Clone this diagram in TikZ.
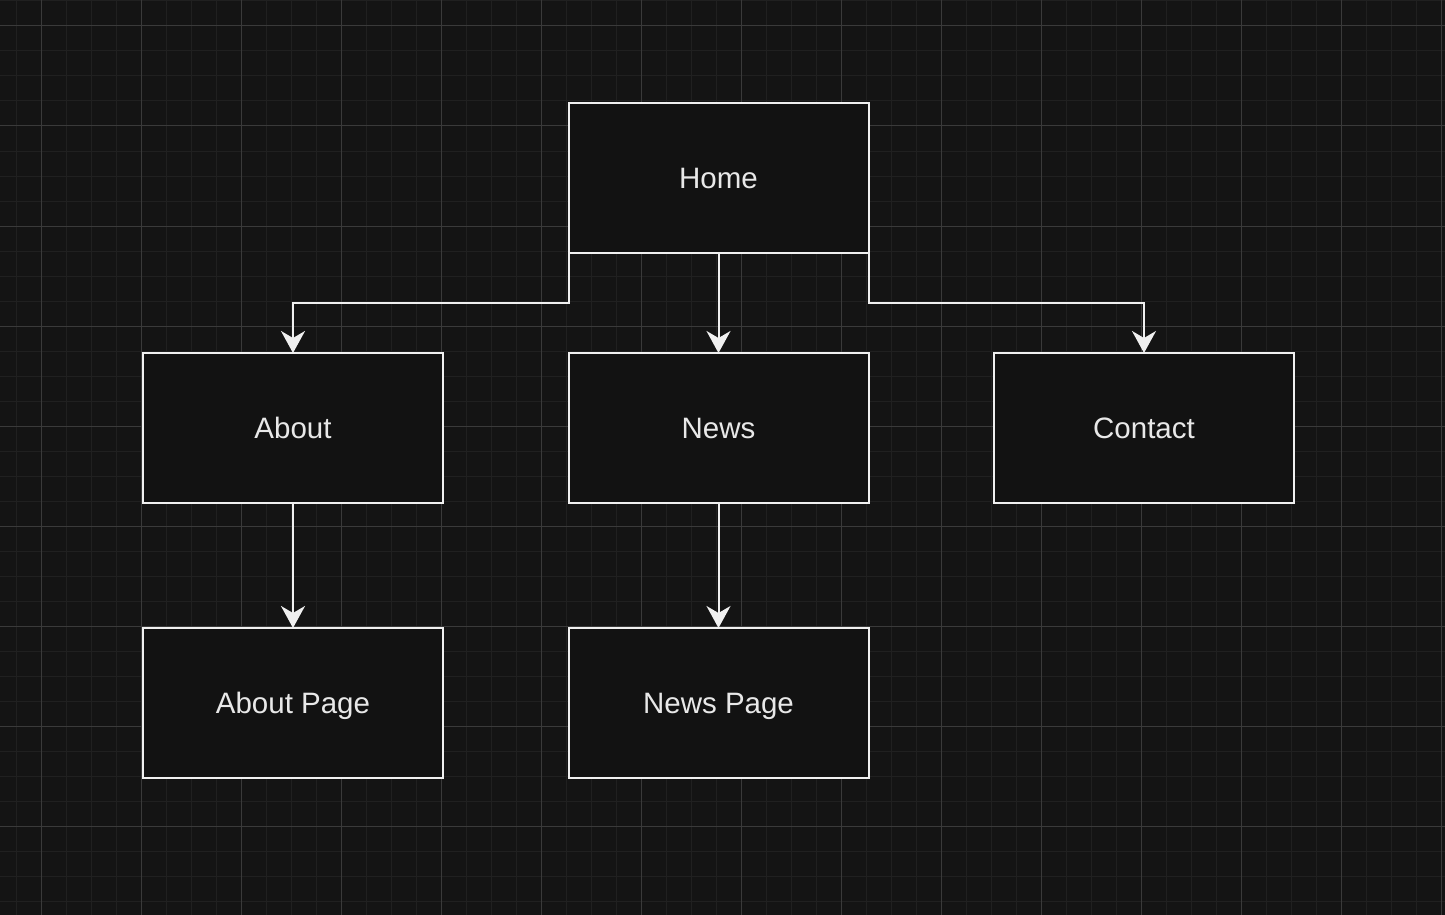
\documentclass[tikz,border=0pt]{standalone}
\usepackage{fontspec}
\setmainfont{Liberation Sans}
\usetikzlibrary{arrows.meta}
\definecolor{canvas}{RGB}{20,20,20}
\definecolor{gridminor}{RGB}{32,32,32}
\definecolor{gridmajor}{RGB}{58,58,58}
\definecolor{ink}{RGB}{240,240,240}
\definecolor{label}{RGB}{232,232,232}
\definecolor{boxfill}{RGB}{18,18,18}
\tikzset{
  minorline/.style={draw=gridminor, line width=1pt},
  majorline/.style={draw=gridmajor, line width=1pt},
  pagebox/.style={draw=ink, fill=boxfill, line width=2pt, minimum width=300pt,
    minimum height=150pt, inner sep=0pt, outer sep=0pt, text=label,
    text height=21pt, text depth=0pt,
    font=\fontsize{29.5}{34}\selectfont},
  link/.style={draw=ink, line width=2pt,
    -{Stealth[length=22pt, width=24pt, inset=7pt, fill=ink]}},
}
\begin{document}
\begin{tikzpicture}[x=1pt, y=-1pt]
  % canvas and bounding box
  \fill[canvas] (0,0) rectangle (1445,915);
  \useasboundingbox (0,0) rectangle (1445,915);
  % background grid: fine lines every 25, strong lines every 100
  \foreach \i in {0,...,57} {
    \draw[minorline] ({16.5+25*\i},0) -- ({16.5+25*\i},915);
  }
  \foreach \i in {0,...,36} {
    \draw[minorline] (0,{1+25*\i}) -- (1445,{1+25*\i});
  }
  \foreach \i in {0,...,14} {
    \draw[majorline] ({41.5+100*\i},0) -- ({41.5+100*\i},915);
  }
  \foreach \i in {0,...,8} {
    \draw[majorline] (0,{26+100*\i}) -- (1445,{26+100*\i});
  }
  % pages
  \node[pagebox] (home) at (718.5,178) {Home};
  \node[pagebox] (about) at (293,428) {About};
  \node[pagebox] (news) at (718.5,428) {News};
  \node[pagebox] (contact) at (1144,428) {Contact};
  \node[pagebox] (aboutpage) at (293,703) {About Page};
  \node[pagebox] (newspage) at (718.5,703) {News Page};
  % links
  \draw[link] (home.south west) -- ++(0,50) -| (about.north);
  \draw[link] (home.south) -- (news.north);
  \draw[link] (home.south east) -- ++(0,50) -| (contact.north);
  \draw[link] (about.south) -- (aboutpage.north);
  \draw[link] (news.south) -- (newspage.north);
\end{tikzpicture}
\end{document}
